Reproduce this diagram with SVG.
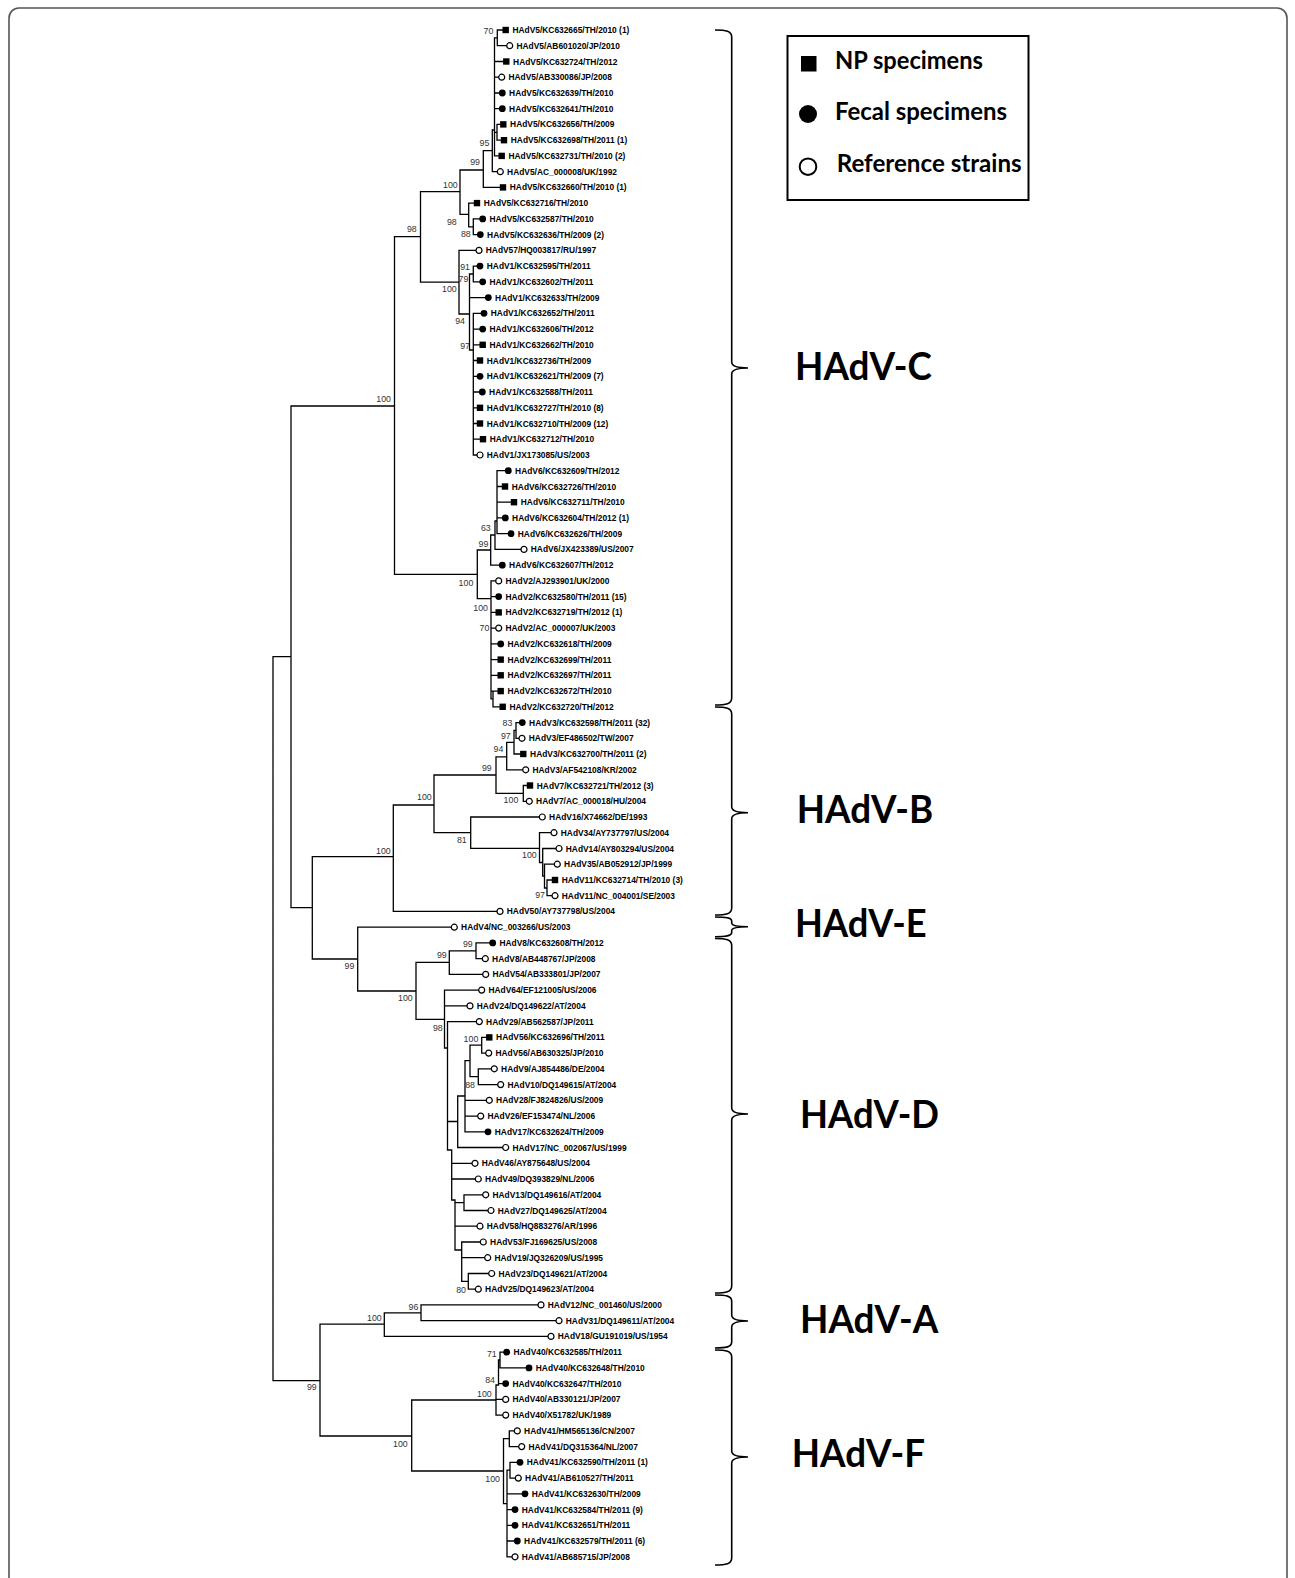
<svg xmlns="http://www.w3.org/2000/svg" xmlns:xlink="http://www.w3.org/1999/xlink" width="1295" height="1578" viewBox="0 0 1295 1578">
<style>
.lf{font-family:"Liberation Sans",Arial,sans-serif;font-size:8.4px;font-weight:bold;fill:#000}
.bs{font-family:"Liberation Sans",Arial,sans-serif;font-size:8.8px;fill:#333;text-anchor:end}
.br{fill:none;stroke:#000;stroke-width:1.3;stroke-linecap:square}
.bk{fill:none;stroke:#000;stroke-width:1.6}
.cl{font-family:Lato,"Liberation Sans",sans-serif;font-weight:bold;font-size:39px;fill:#000}
.lg{font-family:Lato,"Liberation Sans",sans-serif;font-weight:bold;font-size:25px;fill:#000}
</style>
<defs>
<rect id="sq" x="-3.2" y="-3.2" width="6.4" height="6.4" fill="#000"/>
<circle id="fc" r="3.4" fill="#000"/>
<circle id="oc" r="3" fill="#fff" stroke="#000" stroke-width="1.2"/>
</defs>
<rect x="0" y="0" width="1295" height="1578" fill="#fff"/>
<rect x="9" y="8" width="1278" height="1610" rx="10" fill="none" stroke="#555" stroke-width="1.6"/>

<g id="connectors" class="br">
<path d="M273,656.7V1380.7M273,656.7H291M273,1380.7H320M291,406V907.7M291,406H394.5M291,907.7H312.3
M394.5,236.7V574.3M394.5,236.7H420.5M394.5,574.3H477.3M420.5,191.7V282.2M420.5,191.7H460M420.5,282.2H459
M460,170V214.3M460,170H483.3M460,214.3H468.7M483.3,150.7V187.4M483.3,150.7H492.3M483.3,187.4H503
M492.3,130V171.7M492.3,130H494.5M492.3,171.7H500.3M494.5,37.9V155.9M494.5,37.9H497.3M497.3,30V45.7M497.3,30H505.7M497.3,45.7H509.7
M494.5,61.5H506.3M494.5,77.2H501.7M494.5,93H502.3M494.5,108.7H502.3M494.5,132.3H497M497,124.4V140.2M497,124.4H503.3M497,140.2H504M494.5,155.9H501.7
M468.7,203.1V226.8M468.7,203.1H477M468.7,226.8H473.3M473.3,218.9V234.6M473.3,218.9H482.7M473.3,234.6H480.3
M459,250.4V314M459,250.4H479M459,314H469.5M469.5,274V350M469.5,274H473.3M473.3,266.1V281.8M473.3,266.1H480M473.3,281.8H482.7M469.5,297.6H488.3M469.5,350H473.3
M473.3,313.3V455M473.3,313.3H484M473.3,329.1H482.7M473.3,344.8H482.7M473.3,360.5H480M473.3,376.3H480M473.3,392H482.3M473.3,407.8H480M473.3,423.5H480M473.3,439.2H483M473.3,455H480
M477.3,550V598.6M477.3,550H490.7M477.3,598.6H491M490.7,535V565.2M490.7,535H495M490.7,565.2H502.3M495,521V549.4M495,521H497M495,549.4H524
M497,470.7V533.7M497,470.7H508.3M497,486.5H505M497,502.2H514M497,517.9H505.3M497,533.7H511
M491,580.9V698.9M491,580.9H498.7M491,596.6H498.7M491,612.4H498.7M491,628.1H498.7M491,643.9H500.7M491,659.6H500.7M491,675.3H500.7M491,691.1H500.7M491,698.9H493M493,691.1V706.8M493,706.8H502.7
M312.3,856.7V959M312.3,856.7H393.3M312.3,959H357.7M393.3,805V911.4M393.3,805H434M393.3,911.4H500
M434,775V832.7M434,775H496M434,832.7H470.7M496,756.9V793.4M496,756.9H506.7M496,793.4H523.3
M506.7,742.4V769.8M506.7,742.4H514M506.7,769.8H525.7M514,730.4V754M514,730.4H516M514,754H523.3M516,722.6V738.3M516,722.6H522.3M516,738.3H522
M523.3,785.5V801.3M523.3,785.5H530M523.3,801.3H529.3
M470.7,817V848.3M470.7,817H542.3M470.7,848.3H539.5M539.5,832.7V862.5M539.5,832.7H554M539.5,862.5H542.7
M542.7,848.5V876.2M542.7,848.5H559M542.7,876.2H544.5M544.5,864.2V888M544.5,864.2H557.3M544.5,888H547M547,880V895.7M547,880H555M547,895.7H555
M357.7,927.2V991M357.7,927.2H454.3M357.7,991H416M416,962.3V1019.3M416,962.3H449.3M416,1019.3H444.5
M449.3,950.8V974.4M449.3,950.8H476M449.3,974.4H485.7M476,942.9V958.7M476,942.9H492.7M476,958.7H485.3
M444.5,990.1V1048M444.5,990.1H481.7M444.5,1005.9H470M444.5,1048H447.5M447.5,1021.6V1150M447.5,1021.6H479.3M447.5,1121.5H457.7M447.5,1150H451.7
M457.7,1096V1147.5M457.7,1096H465M457.7,1147.5H505.7M465,1060.7V1131.8M465,1060.7H470M465,1100.3H489.3M465,1116.1H480.7M465,1131.8H488
M470,1045.2V1076.7M470,1045.2H481.7M470,1076.7H478.3M481.7,1037.4V1053.1M481.7,1037.4H489.3M481.7,1053.1H488.7M478.3,1068.8V1084.6M478.3,1068.8H494.3M478.3,1084.6H500.7
M451.7,1150V1200M451.7,1163.3H475M451.7,1179H478.3M451.7,1200H455M455,1200V1250M455,1202.6H464M455,1226.2H480M455,1250H461.7
M464,1194.8V1210.5M464,1194.8H485.7M464,1210.5H491M461.7,1242V1281.3M461.7,1242H483.3M461.7,1257.7H487.7M461.7,1281.3H468.3M468.3,1273.5V1289.2M468.3,1273.5H491.7M468.3,1289.2H478.3
M320,1324.2V1436M320,1324.2H384.3M320,1436H411.7M384.3,1312.8V1336.4M384.3,1312.8H421M384.3,1336.4H551M421,1304.9V1320.7M421,1304.9H541M421,1320.7H559
M411.7,1400V1471M411.7,1400H496M411.7,1471H503.5M496,1385V1415.1M496,1385H498.5M496,1399.4H505.7M496,1415.1H505.7
M498.5,1360V1383.6M498.5,1360H500M498.5,1383.6H505.7M500,1352.2V1367.9M500,1352.2H506.7M500,1367.9H529
M503.5,1438.7V1503.6M503.5,1438.7H509.3M503.5,1503.6H507M509.3,1430.9V1446.6M509.3,1430.9H517.3M509.3,1446.6H521.7
M507,1470.2V1556.8M507,1470.2H510M507,1493.8H525M507,1509.6H515M507,1525.3H515M507,1541H517.3M507,1556.8H515M510,1462.3V1478.1M510,1462.3H520M510,1478.1H518.3"/>
</g>

<g id="bootstrap" class="bs">
<text x="493.3" y="34.2">70</text><text x="489.3" y="145.9">95</text><text x="480" y="164.9">99</text><text x="457.7" y="187.9">100</text>
<text x="456.7" y="224.9">98</text><text x="470.7" y="237.2">88</text><text x="416.7" y="232.2">98</text><text x="470" y="269.9">91</text>
<text x="468.3" y="281.5">79</text><text x="456.7" y="292.2">100</text><text x="465" y="323.5">94</text><text x="470" y="349.2">97</text>
<text x="391" y="402.2">100</text><text x="490.7" y="530.5">63</text><text x="488.3" y="546.5">99</text><text x="473.3" y="585.9">100</text>
<text x="488" y="610.7">100</text><text x="489.3" y="630.9">70</text><text x="512.3" y="725.5">83</text><text x="510.7" y="739.2">97</text>
<text x="503.3" y="752.2">94</text><text x="491.7" y="770.5">99</text><text x="431.7" y="799.9">100</text><text x="518.3" y="803.2">100</text>
<text x="390.7" y="853.9">100</text><text x="466.7" y="843.2">81</text><text x="536.7" y="858.2">100</text><text x="545" y="898.2">97</text>
<text x="354.3" y="969.2">99</text><text x="472.7" y="947.2">99</text><text x="446.7" y="958.2">99</text><text x="412.7" y="1000.5">100</text>
<text x="442.7" y="1030.5">98</text><text x="478.3" y="1041.5">100</text><text x="475" y="1087.5">88</text><text x="466" y="1292.5">80</text>
<text x="418.3" y="1309.9">96</text><text x="381.7" y="1320.9">100</text><text x="496.7" y="1356.5">71</text><text x="495" y="1382.5">84</text>
<text x="316.7" y="1389.9">99</text><text x="491.7" y="1397.2">100</text><text x="407.7" y="1446.5">100</text><text x="500" y="1481.5">100</text>
</g>

<g id="leaves">
<g id="leaf01"><use href="#sq" x="505.7" y="30"/><text class="lf" x="512.5" y="33">HAdV5/KC632665/TH/2010 (1)</text></g>
<g id="leaf02"><use href="#oc" x="509.7" y="45.7"/><text class="lf" x="516.5" y="48.7">HAdV5/AB601020/JP/2010</text></g>
<g id="leaf03"><use href="#sq" x="506.3" y="61.5"/><text class="lf" x="513.1" y="64.5">HAdV5/KC632724/TH/2012</text></g>
<g id="leaf04"><use href="#oc" x="501.7" y="77.2"/><text class="lf" x="508.5" y="80.2">HAdV5/AB330086/JP/2008</text></g>
<g id="leaf05"><use href="#fc" x="502.3" y="93"/><text class="lf" x="509.1" y="96">HAdV5/KC632639/TH/2010</text></g>
<g id="leaf06"><use href="#fc" x="502.3" y="108.7"/><text class="lf" x="509.1" y="111.7">HAdV5/KC632641/TH/2010</text></g>
<g id="leaf07"><use href="#sq" x="503.3" y="124.4"/><text class="lf" x="510.1" y="127.4">HAdV5/KC632656/TH/2009</text></g>
<g id="leaf08"><use href="#sq" x="504" y="140.2"/><text class="lf" x="510.8" y="143.2">HAdV5/KC632698/TH/2011 (1)</text></g>
<g id="leaf09"><use href="#sq" x="501.7" y="155.9"/><text class="lf" x="508.5" y="158.9">HAdV5/KC632731/TH/2010 (2)</text></g>
<g id="leaf10"><use href="#oc" x="500.3" y="171.7"/><text class="lf" x="507.1" y="174.7">HAdV5/AC_000008/UK/1992</text></g>
<g id="leaf11"><use href="#sq" x="503" y="187.4"/><text class="lf" x="509.8" y="190.4">HAdV5/KC632660/TH/2010 (1)</text></g>
<g id="leaf12"><use href="#sq" x="477" y="203.1"/><text class="lf" x="483.8" y="206.1">HAdV5/KC632716/TH/2010</text></g>
<g id="leaf13"><use href="#fc" x="482.7" y="218.9"/><text class="lf" x="489.5" y="221.9">HAdV5/KC632587/TH/2010</text></g>
<g id="leaf14"><use href="#fc" x="480.3" y="234.6"/><text class="lf" x="487.1" y="237.6">HAdV5/KC632636/TH/2009 (2)</text></g>
<g id="leaf15"><use href="#oc" x="479" y="250.4"/><text class="lf" x="485.8" y="253.4">HAdV57/HQ003817/RU/1997</text></g>
<g id="leaf16"><use href="#fc" x="480" y="266.1"/><text class="lf" x="486.8" y="269.1">HAdV1/KC632595/TH/2011</text></g>
<g id="leaf17"><use href="#fc" x="482.7" y="281.8"/><text class="lf" x="489.5" y="284.8">HAdV1/KC632602/TH/2011</text></g>
<g id="leaf18"><use href="#fc" x="488.3" y="297.6"/><text class="lf" x="495.1" y="300.6">HAdV1/KC632633/TH/2009</text></g>
<g id="leaf19"><use href="#fc" x="484" y="313.3"/><text class="lf" x="490.8" y="316.3">HAdV1/KC632652/TH/2011</text></g>
<g id="leaf20"><use href="#fc" x="482.7" y="329.1"/><text class="lf" x="489.5" y="332.1">HAdV1/KC632606/TH/2012</text></g>
<g id="leaf21"><use href="#sq" x="482.7" y="344.8"/><text class="lf" x="489.5" y="347.8">HAdV1/KC632662/TH/2010</text></g>
<g id="leaf22"><use href="#sq" x="480" y="360.5"/><text class="lf" x="486.8" y="363.5">HAdV1/KC632736/TH/2009</text></g>
<g id="leaf23"><use href="#fc" x="480" y="376.3"/><text class="lf" x="486.8" y="379.3">HAdV1/KC632621/TH/2009 (7)</text></g>
<g id="leaf24"><use href="#fc" x="482.3" y="392"/><text class="lf" x="489.1" y="395">HAdV1/KC632588/TH/2011</text></g>
<g id="leaf25"><use href="#sq" x="480" y="407.8"/><text class="lf" x="486.8" y="410.8">HAdV1/KC632727/TH/2010 (8)</text></g>
<g id="leaf26"><use href="#sq" x="480" y="423.5"/><text class="lf" x="486.8" y="426.5">HAdV1/KC632710/TH/2009 (12)</text></g>
<g id="leaf27"><use href="#sq" x="483" y="439.2"/><text class="lf" x="489.8" y="442.2">HAdV1/KC632712/TH/2010</text></g>
<g id="leaf28"><use href="#oc" x="480" y="455"/><text class="lf" x="486.8" y="458">HAdV1/JX173085/US/2003</text></g>
<g id="leaf29"><use href="#fc" x="508.3" y="470.7"/><text class="lf" x="515.1" y="473.7">HAdV6/KC632609/TH/2012</text></g>
<g id="leaf30"><use href="#sq" x="505" y="486.5"/><text class="lf" x="511.8" y="489.5">HAdV6/KC632726/TH/2010</text></g>
<g id="leaf31"><use href="#sq" x="514" y="502.2"/><text class="lf" x="520.8" y="505.2">HAdV6/KC632711/TH/2010</text></g>
<g id="leaf32"><use href="#fc" x="505.3" y="517.9"/><text class="lf" x="512.1" y="520.9">HAdV6/KC632604/TH/2012 (1)</text></g>
<g id="leaf33"><use href="#fc" x="511" y="533.7"/><text class="lf" x="517.8" y="536.7">HAdV6/KC632626/TH/2009</text></g>
<g id="leaf34"><use href="#oc" x="524" y="549.4"/><text class="lf" x="530.8" y="552.4">HAdV6/JX423389/US/2007</text></g>
<g id="leaf35"><use href="#fc" x="502.3" y="565.2"/><text class="lf" x="509.1" y="568.2">HAdV6/KC632607/TH/2012</text></g>
<g id="leaf36"><use href="#oc" x="498.7" y="580.9"/><text class="lf" x="505.5" y="583.9">HAdV2/AJ293901/UK/2000</text></g>
<g id="leaf37"><use href="#fc" x="498.7" y="596.6"/><text class="lf" x="505.5" y="599.6">HAdV2/KC632580/TH/2011 (15)</text></g>
<g id="leaf38"><use href="#sq" x="498.7" y="612.4"/><text class="lf" x="505.5" y="615.4">HAdV2/KC632719/TH/2012 (1)</text></g>
<g id="leaf39"><use href="#oc" x="498.7" y="628.1"/><text class="lf" x="505.5" y="631.1">HAdV2/AC_000007/UK/2003</text></g>
<g id="leaf40"><use href="#fc" x="500.7" y="643.9"/><text class="lf" x="507.5" y="646.9">HAdV2/KC632618/TH/2009</text></g>
<g id="leaf41"><use href="#sq" x="500.7" y="659.6"/><text class="lf" x="507.5" y="662.6">HAdV2/KC632699/TH/2011</text></g>
<g id="leaf42"><use href="#sq" x="500.7" y="675.3"/><text class="lf" x="507.5" y="678.3">HAdV2/KC632697/TH/2011</text></g>
<g id="leaf43"><use href="#sq" x="500.7" y="691.1"/><text class="lf" x="507.5" y="694.1">HAdV2/KC632672/TH/2010</text></g>
<g id="leaf44"><use href="#sq" x="502.7" y="706.8"/><text class="lf" x="509.5" y="709.8">HAdV2/KC632720/TH/2012</text></g>
<g id="leaf45"><use href="#fc" x="522.3" y="722.6"/><text class="lf" x="529.1" y="725.6">HAdV3/KC632598/TH/2011 (32)</text></g>
<g id="leaf46"><use href="#oc" x="522" y="738.3"/><text class="lf" x="528.8" y="741.3">HAdV3/EF486502/TW/2007</text></g>
<g id="leaf47"><use href="#sq" x="523.3" y="754"/><text class="lf" x="530.1" y="757">HAdV3/KC632700/TH/2011 (2)</text></g>
<g id="leaf48"><use href="#oc" x="525.7" y="769.8"/><text class="lf" x="532.5" y="772.8">HAdV3/AF542108/KR/2002</text></g>
<g id="leaf49"><use href="#sq" x="530" y="785.5"/><text class="lf" x="536.8" y="788.5">HAdV7/KC632721/TH/2012 (3)</text></g>
<g id="leaf50"><use href="#oc" x="529.3" y="801.3"/><text class="lf" x="536.1" y="804.3">HAdV7/AC_000018/HU/2004</text></g>
<g id="leaf51"><use href="#oc" x="542.3" y="817"/><text class="lf" x="549.1" y="820">HAdV16/X74662/DE/1993</text></g>
<g id="leaf52"><use href="#oc" x="554" y="832.7"/><text class="lf" x="560.8" y="835.7">HAdV34/AY737797/US/2004</text></g>
<g id="leaf53"><use href="#oc" x="559" y="848.5"/><text class="lf" x="565.8" y="851.5">HAdV14/AY803294/US/2004</text></g>
<g id="leaf54"><use href="#oc" x="557.3" y="864.2"/><text class="lf" x="564.1" y="867.2">HAdV35/AB052912/JP/1999</text></g>
<g id="leaf55"><use href="#sq" x="555" y="880"/><text class="lf" x="561.8" y="883">HAdV11/KC632714/TH/2010 (3)</text></g>
<g id="leaf56"><use href="#oc" x="555" y="895.7"/><text class="lf" x="561.8" y="898.7">HAdV11/NC_004001/SE/2003</text></g>
<g id="leaf57"><use href="#oc" x="500" y="911.4"/><text class="lf" x="506.8" y="914.4">HAdV50/AY737798/US/2004</text></g>
<g id="leaf58"><use href="#oc" x="454.3" y="927.2"/><text class="lf" x="461.1" y="930.2">HAdV4/NC_003266/US/2003</text></g>
<g id="leaf59"><use href="#fc" x="492.7" y="942.9"/><text class="lf" x="499.5" y="945.9">HAdV8/KC632608/TH/2012</text></g>
<g id="leaf60"><use href="#oc" x="485.3" y="958.7"/><text class="lf" x="492.1" y="961.7">HAdV8/AB448767/JP/2008</text></g>
<g id="leaf61"><use href="#oc" x="485.7" y="974.4"/><text class="lf" x="492.5" y="977.4">HAdV54/AB333801/JP/2007</text></g>
<g id="leaf62"><use href="#oc" x="481.7" y="990.1"/><text class="lf" x="488.5" y="993.1">HAdV64/EF121005/US/2006</text></g>
<g id="leaf63"><use href="#oc" x="470" y="1005.9"/><text class="lf" x="476.8" y="1008.9">HAdV24/DQ149622/AT/2004</text></g>
<g id="leaf64"><use href="#oc" x="479.3" y="1021.6"/><text class="lf" x="486.1" y="1024.6">HAdV29/AB562587/JP/2011</text></g>
<g id="leaf65"><use href="#sq" x="489.3" y="1037.4"/><text class="lf" x="496.1" y="1040.4">HAdV56/KC632696/TH/2011</text></g>
<g id="leaf66"><use href="#oc" x="488.7" y="1053.1"/><text class="lf" x="495.5" y="1056.1">HAdV56/AB630325/JP/2010</text></g>
<g id="leaf67"><use href="#oc" x="494.3" y="1068.8"/><text class="lf" x="501.1" y="1071.8">HAdV9/AJ854486/DE/2004</text></g>
<g id="leaf68"><use href="#oc" x="500.7" y="1084.6"/><text class="lf" x="507.5" y="1087.6">HAdV10/DQ149615/AT/2004</text></g>
<g id="leaf69"><use href="#oc" x="489.3" y="1100.3"/><text class="lf" x="496.1" y="1103.3">HAdV28/FJ824826/US/2009</text></g>
<g id="leaf70"><use href="#oc" x="480.7" y="1116.1"/><text class="lf" x="487.5" y="1119.1">HAdV26/EF153474/NL/2006</text></g>
<g id="leaf71"><use href="#fc" x="488" y="1131.8"/><text class="lf" x="494.8" y="1134.8">HAdV17/KC632624/TH/2009</text></g>
<g id="leaf72"><use href="#oc" x="505.7" y="1147.5"/><text class="lf" x="512.5" y="1150.5">HAdV17/NC_002067/US/1999</text></g>
<g id="leaf73"><use href="#oc" x="475" y="1163.3"/><text class="lf" x="481.8" y="1166.3">HAdV46/AY875648/US/2004</text></g>
<g id="leaf74"><use href="#oc" x="478.3" y="1179"/><text class="lf" x="485.1" y="1182">HAdV49/DQ393829/NL/2006</text></g>
<g id="leaf75"><use href="#oc" x="485.7" y="1194.8"/><text class="lf" x="492.5" y="1197.8">HAdV13/DQ149616/AT/2004</text></g>
<g id="leaf76"><use href="#oc" x="491" y="1210.5"/><text class="lf" x="497.8" y="1213.5">HAdV27/DQ149625/AT/2004</text></g>
<g id="leaf77"><use href="#oc" x="480" y="1226.2"/><text class="lf" x="486.8" y="1229.2">HAdV58/HQ883276/AR/1996</text></g>
<g id="leaf78"><use href="#oc" x="483.3" y="1242"/><text class="lf" x="490.1" y="1245">HAdV53/FJ169625/US/2008</text></g>
<g id="leaf79"><use href="#oc" x="487.7" y="1257.7"/><text class="lf" x="494.5" y="1260.7">HAdV19/JQ326209/US/1995</text></g>
<g id="leaf80"><use href="#oc" x="491.7" y="1273.5"/><text class="lf" x="498.5" y="1276.5">HAdV23/DQ149621/AT/2004</text></g>
<g id="leaf81"><use href="#oc" x="478.3" y="1289.2"/><text class="lf" x="485.1" y="1292.2">HAdV25/DQ149623/AT/2004</text></g>
<g id="leaf82"><use href="#oc" x="541" y="1304.9"/><text class="lf" x="547.8" y="1307.9">HAdV12/NC_001460/US/2000</text></g>
<g id="leaf83"><use href="#oc" x="559" y="1320.7"/><text class="lf" x="565.8" y="1323.7">HAdV31/DQ149611/AT/2004</text></g>
<g id="leaf84"><use href="#oc" x="551" y="1336.4"/><text class="lf" x="557.8" y="1339.4">HAdV18/GU191019/US/1954</text></g>
<g id="leaf85"><use href="#fc" x="506.7" y="1352.2"/><text class="lf" x="513.5" y="1355.2">HAdV40/KC632585/TH/2011</text></g>
<g id="leaf86"><use href="#fc" x="529" y="1367.9"/><text class="lf" x="535.8" y="1370.9">HAdV40/KC632648/TH/2010</text></g>
<g id="leaf87"><use href="#fc" x="505.7" y="1383.6"/><text class="lf" x="512.5" y="1386.6">HAdV40/KC632647/TH/2010</text></g>
<g id="leaf88"><use href="#oc" x="505.7" y="1399.4"/><text class="lf" x="512.5" y="1402.4">HAdV40/AB330121/JP/2007</text></g>
<g id="leaf89"><use href="#oc" x="505.7" y="1415.1"/><text class="lf" x="512.5" y="1418.1">HAdV40/X51782/UK/1989</text></g>
<g id="leaf90"><use href="#oc" x="517.3" y="1430.9"/><text class="lf" x="524.1" y="1433.9">HAdV41/HM565136/CN/2007</text></g>
<g id="leaf91"><use href="#oc" x="521.7" y="1446.6"/><text class="lf" x="528.5" y="1449.6">HAdV41/DQ315364/NL/2007</text></g>
<g id="leaf92"><use href="#fc" x="520" y="1462.3"/><text class="lf" x="526.8" y="1465.3">HAdV41/KC632590/TH/2011 (1)</text></g>
<g id="leaf93"><use href="#oc" x="518.3" y="1478.1"/><text class="lf" x="525.1" y="1481.1">HAdV41/AB610527/TH/2011</text></g>
<g id="leaf94"><use href="#fc" x="525" y="1493.8"/><text class="lf" x="531.8" y="1496.8">HAdV41/KC632630/TH/2009</text></g>
<g id="leaf95"><use href="#fc" x="515" y="1509.6"/><text class="lf" x="521.8" y="1512.6">HAdV41/KC632584/TH/2011 (9)</text></g>
<g id="leaf96"><use href="#fc" x="515" y="1525.3"/><text class="lf" x="521.8" y="1528.3">HAdV41/KC632651/TH/2011</text></g>
<g id="leaf97"><use href="#fc" x="517.3" y="1541"/><text class="lf" x="524.1" y="1544">HAdV41/KC632579/TH/2011 (6)</text></g>
<g id="leaf98"><use href="#oc" x="515" y="1556.8"/><text class="lf" x="521.8" y="1559.8">HAdV41/AB685715/JP/2008</text></g>
</g>

<g id="clade-C"><path class="bk" d="M715,30C726,30 731.7,31 731.7,37V362C731.7,366.5 737,368 748,368M748,368C737,368 731.7,369.5 731.7,374V698C731.7,704 726,705 715,705"/><text class="cl" x="795" y="380" textLength="137" lengthAdjust="spacingAndGlyphs">HAdV-C</text></g>
<g id="clade-B"><path class="bk" d="M715,707C726,707 731.7,708 731.7,714V806.7C731.7,811.2 737,812.7 748,812.7M748,812.7C737,812.7 731.7,814.2 731.7,818.7V908C731.7,914 726,915 715,915"/><text class="cl" x="796.7" y="823.3" textLength="136.6" lengthAdjust="spacingAndGlyphs">HAdV-B</text></g>
<g id="clade-E"><path class="bk" d="M715,917C726,917 731.7,917.5 731.7,921V923C731.7,925.5 737,926.7 748,926.7M748,926.7C737,926.7 731.7,928 731.7,930.5V932.5C731.7,936 726,936.7 715,936.7"/><text class="cl" x="795" y="936.7" textLength="131.7" lengthAdjust="spacingAndGlyphs">HAdV-E</text></g>
<g id="clade-D"><path class="bk" d="M715,938.5C726,938.5 731.7,939.5 731.7,945.5V1108C731.7,1112.5 737,1114 748,1114M748,1114C737,1114 731.7,1115.5 731.7,1120V1286C731.7,1292 726,1293 715,1293"/><text class="cl" x="800" y="1128" textLength="139" lengthAdjust="spacingAndGlyphs">HAdV-D</text></g>
<g id="clade-A"><path class="bk" d="M715,1295C726,1295 731.7,1296 731.7,1301V1315C731.7,1319.5 737,1321 748,1321M748,1321C737,1321 731.7,1322.5 731.7,1327V1342C731.7,1347 726,1348 715,1348"/><text class="cl" x="800" y="1332.7" textLength="138.3" lengthAdjust="spacingAndGlyphs">HAdV-A</text></g>
<g id="clade-F"><path class="bk" d="M715,1350C726,1350 731.7,1351 731.7,1357V1451C731.7,1455.5 737,1457 748,1457M748,1457C737,1457 731.7,1458.5 731.7,1463V1558C731.7,1564 726,1565 715,1565"/><text class="cl" x="791.7" y="1467.3" textLength="133.3" lengthAdjust="spacingAndGlyphs">HAdV-F</text></g>

<g id="legend">
<rect x="787.5" y="36" width="241" height="164" fill="#fff" stroke="#000" stroke-width="2"/>
<rect x="801" y="56" width="15.5" height="15.5" fill="#000"/>
<text class="lg" x="835" y="68.5" textLength="148" lengthAdjust="spacingAndGlyphs">NP specimens</text>
<circle cx="808" cy="114" r="9" fill="#000"/>
<text class="lg" x="835" y="120" textLength="172" lengthAdjust="spacingAndGlyphs">Fecal specimens</text>
<circle cx="808" cy="166.7" r="8.3" fill="#fff" stroke="#000" stroke-width="2"/>
<text class="lg" x="836.7" y="171.7" textLength="185" lengthAdjust="spacingAndGlyphs">Reference strains</text>
</g>
</svg>
